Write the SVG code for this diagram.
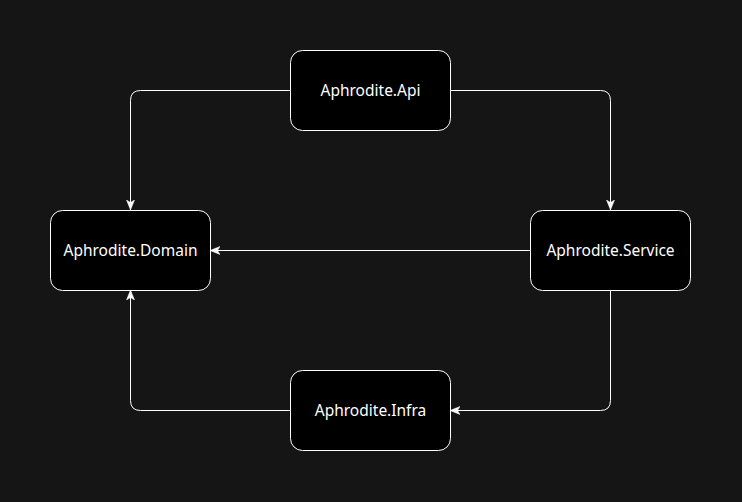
<svg xmlns="http://www.w3.org/2000/svg" width="742" height="502" viewBox="0 0 742 502">
<defs>
<style>
.node rect{fill:#000;stroke:#fff;stroke-width:1}
.node text{fill:#fff;font-family:"Noto Sans","Open Sans","DejaVu Sans",sans-serif;font-size:15.5px;text-anchor:middle;dominant-baseline:central}
.edge{fill:none;stroke:#fff;stroke-width:1}
</style>
<marker id="arr" viewBox="0 0 10 10" refX="10" refY="5" markerWidth="10" markerHeight="10" markerUnits="userSpaceOnUse" orient="auto">
<path d="M0,1 L10,5 L0,9 L2.5,5 Z" fill="#fff" stroke="#fff" stroke-width="0.5"/>
</marker>
</defs>
<rect width="742" height="502" fill="#151515"/>
<g id="connectors">
<path class="edge" d="M290,90.5 H140.5 Q130.5,90.5 130.5,100.5 V210" marker-end="url(#arr)"/>
<path class="edge" d="M450,90.5 H600.5 Q610.5,90.5 610.5,100.5 V210" marker-end="url(#arr)"/>
<path class="edge" d="M530,250.5 H210" marker-end="url(#arr)"/>
<path class="edge" d="M610.5,290 V400.5 Q610.5,410.5 600.5,410.5 H450" marker-end="url(#arr)"/>
<path class="edge" d="M290,410.5 H140.5 Q130.5,410.5 130.5,400.5 V290" marker-end="url(#arr)"/>
</g>
<g id="api" class="node"><rect x="290.5" y="50.5" width="160" height="80" rx="12"/><text x="370.5" y="90">Aphrodite.Api</text></g>
<g id="domain" class="node"><rect x="50.5" y="210.5" width="160" height="80" rx="12"/><text x="130.5" y="250">Aphrodite.Domain</text></g>
<g id="service" class="node"><rect x="530.5" y="210.5" width="160" height="80" rx="12"/><text x="610.5" y="250">Aphrodite.Service</text></g>
<g id="infra" class="node"><rect x="290.5" y="370.5" width="160" height="80" rx="12"/><text x="370.5" y="410">Aphrodite.Infra</text></g>
</svg>
